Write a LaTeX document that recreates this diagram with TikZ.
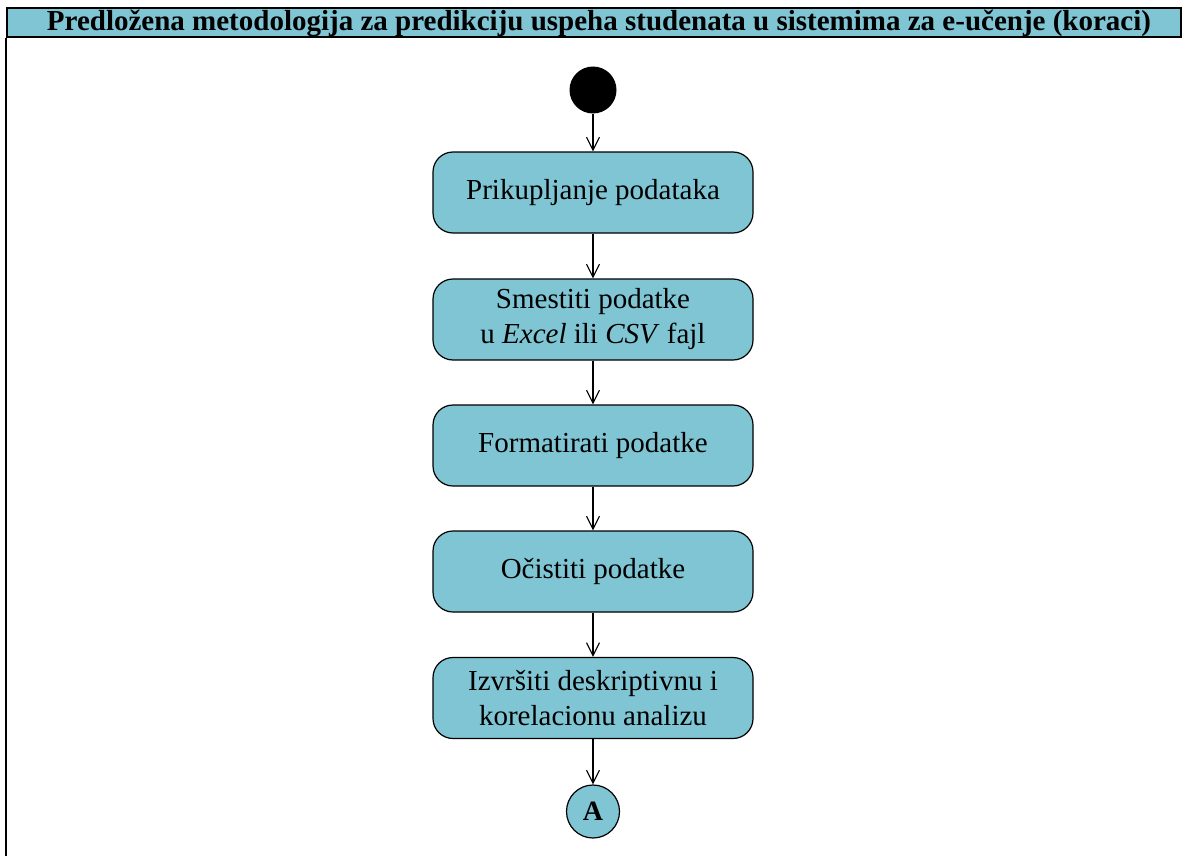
\documentclass[tikz,border=0pt]{standalone}
\usepackage{fontspec}
\setmainfont{Liberation Serif}
\usetikzlibrary{arrows.meta}
\definecolor{boxblue}{RGB}{128,197,212}
\begin{document}
\begin{tikzpicture}[x=1pt,y=-1pt,
  act/.style={draw=black, fill=boxblue, rounded corners=20pt, minimum width=320pt, minimum height=81pt,
    align=center, line width=1.2pt, inner sep=4pt, font=\fontsize{29}{35}\selectfont},
  flow/.style={line width=1.1pt, -{Straight Barb[length=13pt,width=13pt,line width=1.1pt]}},
  titlebar/.style={draw=black, fill=boxblue, line width=2pt, minimum width=1174pt, minimum height=29pt,
    inner sep=0pt, font=\fontsize{29}{31}\selectfont\bfseries},
  initial/.style={circle, fill=black, minimum size=47pt, inner sep=0pt},
  connector/.style={circle, draw=black, fill=boxblue, line width=1.2pt, minimum size=53pt, inner sep=0pt,
    font=\fontsize{28}{30}\selectfont\bfseries}]
\useasboundingbox (0,0) rectangle (1182,856);
\fill[white] (0,0) rectangle (1182,856);
\node[titlebar, anchor=north west] (title) at (6,7.5) {\hspace*{10pt}Predložena metodologija za predikciju uspeha studenata u sistemima za e-učenje (koraci)};
\coordinate (lb) at (6,856);
\draw[line width=2pt] (title.south west) -- (lb);
\node[initial] (start) at (593,90) {};
\node[act] (b1) at (593,192.5) {Prikupljanje podataka};
\node[act] (b2) at (593,319.5) {Smestiti podatke\\u \textit{Excel} ili \textit{CSV} fajl};
\node[act] (b3) at (593,445.5) {Formatirati podatke};
\node[act] (b4) at (593,571.5) {Očistiti podatke};
\node[act] (b5) at (593,698) {Izvršiti deskriptivnu i\\korelacionu analizu};
\node[connector] (A) at (593,811.5) {A};
\draw[flow] (start) -- (b1);
\draw[flow] (b1) -- (b2);
\draw[flow] (b2) -- (b3);
\draw[flow] (b3) -- (b4);
\draw[flow] (b4) -- (b5);
\draw[flow] (b5) -- (A);
\end{tikzpicture}
\end{document}
